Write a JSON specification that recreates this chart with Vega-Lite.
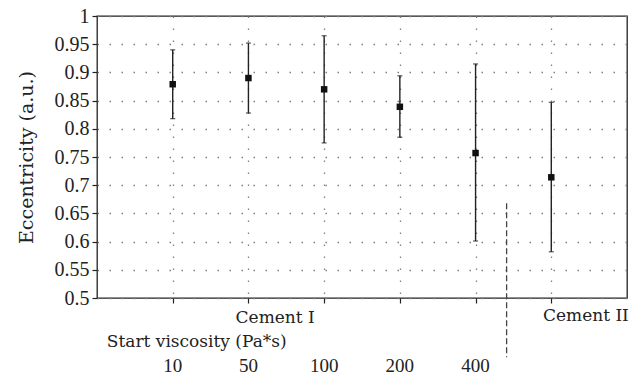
{
  "$schema": "https://vega.github.io/schema/vega-lite/v6.json",
  "width": 530,
  "height": 282,
  "autosize": {"type": "none"},
  "padding": {"left": 97, "top": 16, "right": 12, "bottom": 79},
  "background": "white",
  "config": {
    "view": {"stroke": "#222", "strokeWidth": 1.3},
    "font": "Liberation Serif",
    "axis": {"labelFont": "Liberation Serif", "titleFont": "DejaVu Serif", "domain": false, "tickColor": "#222", "tickWidth": 1.2, "tickSize": 5,
             "grid": true, "gridColor": "#808080", "gridDash": [1.5, 10.5], "gridWidth": 1.3, "gridOpacity": 1, "labelOverlap": false},
    "axisX": {"labels": false, "title": null},
    "axisY": {"labelFontSize": 20, "labelColor": "#222", "labelPadding": 3, "titleFontSize": 19, "titleFontWeight": "normal", "titleColor": "#222", "titlePadding": 18}
  },
  "datasets": {
    "pts": [
      {"pos": 1, "mean": 0.879, "lo": 0.818, "hi": 0.940},
      {"pos": 2, "mean": 0.890, "lo": 0.828, "hi": 0.952},
      {"pos": 3, "mean": 0.870, "lo": 0.775, "hi": 0.965},
      {"pos": 4, "mean": 0.839, "lo": 0.785, "hi": 0.894},
      {"pos": 5, "mean": 0.757, "lo": 0.601, "hi": 0.915},
      {"pos": 6, "mean": 0.714, "lo": 0.582, "hi": 0.847}
    ],
    "labels": [
      {"x": 1.83, "y": 0.465, "text": "Cement I"},
      {"x": 5.89, "y": 0.468, "text": "Cement II"},
      {"x": 0.13, "y": 0.4226, "text": "Start viscosity (Pa*s)"}
    ],
    "nums": [
      {"x": 1, "y": 0.379, "text": "10"},
      {"x": 2, "y": 0.379, "text": "50"},
      {"x": 3, "y": 0.379, "text": "100"},
      {"x": 4, "y": 0.379, "text": "200"},
      {"x": 5, "y": 0.379, "text": "400"}
    ],
    "divider": [{"x": 5.41, "y": 0.668, "y2": 0.395}]
  },
  "layer": [
    {
      "data": {"name": "pts"},
      "mark": {"type": "rule", "color": "#222", "strokeWidth": 1.4},
      "encoding": {
        "x": {"field": "pos", "type": "quantitative", "scale": {"domain": [0, 7], "nice": false, "zero": false},
              "axis": {"values": [1, 2, 3, 4, 5, 6], "title": null}},
        "y": {"field": "lo", "type": "quantitative", "scale": {"domain": [0.5, 1], "nice": false, "zero": false},
              "axis": {"values": [0.5, 0.55, 0.6, 0.65, 0.7, 0.75, 0.8, 0.85, 0.9, 0.95, 1], "labelExpr": "format(datum.value, '.2~f')", "title": "Eccentricity (a.u.)"}},
        "y2": {"field": "hi"}
      }
    },
    {
      "data": {"name": "pts"},
      "mark": {"type": "tick", "orient": "horizontal", "color": "#222", "size": 5, "thickness": 1.3},
      "encoding": {
        "x": {"field": "pos", "type": "quantitative", "axis": {"values": [1, 2, 3, 4, 5, 6], "title": null}},
        "y": {"field": "hi", "type": "quantitative", "axis": {"values": [0.5, 0.55, 0.6, 0.65, 0.7, 0.75, 0.8, 0.85, 0.9, 0.95, 1], "labelExpr": "format(datum.value, '.2~f')", "title": "Eccentricity (a.u.)"}}
      }
    },
    {
      "data": {"name": "pts"},
      "mark": {"type": "tick", "orient": "horizontal", "color": "#222", "size": 5, "thickness": 1.3},
      "encoding": {
        "x": {"field": "pos", "type": "quantitative", "axis": {"values": [1, 2, 3, 4, 5, 6], "title": null}},
        "y": {"field": "lo", "type": "quantitative", "axis": {"values": [0.5, 0.55, 0.6, 0.65, 0.7, 0.75, 0.8, 0.85, 0.9, 0.95, 1], "labelExpr": "format(datum.value, '.2~f')", "title": "Eccentricity (a.u.)"}}
      }
    },
    {
      "data": {"name": "pts"},
      "mark": {"type": "point", "shape": "square", "filled": true, "color": "#111", "size": 42, "opacity": 1},
      "encoding": {
        "x": {"field": "pos", "type": "quantitative", "axis": {"values": [1, 2, 3, 4, 5, 6], "title": null}},
        "y": {"field": "mean", "type": "quantitative", "axis": {"values": [0.5, 0.55, 0.6, 0.65, 0.7, 0.75, 0.8, 0.85, 0.9, 0.95, 1], "labelExpr": "format(datum.value, '.2~f')", "title": "Eccentricity (a.u.)"}}
      }
    },
    {
      "data": {"name": "divider"},
      "mark": {"type": "rule", "color": "#444", "strokeWidth": 1.3, "strokeDash": [6, 3], "clip": false},
      "encoding": {
        "x": {"field": "x", "type": "quantitative", "axis": {"values": [1, 2, 3, 4, 5, 6], "title": null}},
        "y": {"field": "y", "type": "quantitative", "axis": {"values": [0.5, 0.55, 0.6, 0.65, 0.7, 0.75, 0.8, 0.85, 0.9, 0.95, 1], "labelExpr": "format(datum.value, '.2~f')", "title": "Eccentricity (a.u.)"}},
        "y2": {"field": "y2"}
      }
    },
    {
      "data": {"name": "labels"},
      "mark": {"type": "text", "align": "left", "baseline": "middle", "font": "DejaVu Serif", "fontSize": 17, "color": "#222", "clip": false},
      "encoding": {
        "x": {"field": "x", "type": "quantitative", "axis": {"values": [1, 2, 3, 4, 5, 6], "title": null}},
        "y": {"field": "y", "type": "quantitative", "axis": {"values": [0.5, 0.55, 0.6, 0.65, 0.7, 0.75, 0.8, 0.85, 0.9, 0.95, 1], "labelExpr": "format(datum.value, '.2~f')", "title": "Eccentricity (a.u.)"}},
        "text": {"field": "text"}
      }
    },
    {
      "data": {"name": "nums"},
      "mark": {"type": "text", "align": "center", "baseline": "middle", "fontSize": 19, "color": "#222", "clip": false},
      "encoding": {
        "x": {"field": "x", "type": "quantitative", "axis": {"values": [1, 2, 3, 4, 5, 6], "title": null}},
        "y": {"field": "y", "type": "quantitative", "axis": {"values": [0.5, 0.55, 0.6, 0.65, 0.7, 0.75, 0.8, 0.85, 0.9, 0.95, 1], "labelExpr": "format(datum.value, '.2~f')", "title": "Eccentricity (a.u.)"}},
        "text": {"field": "text"}
      }
    }
  ]
}
